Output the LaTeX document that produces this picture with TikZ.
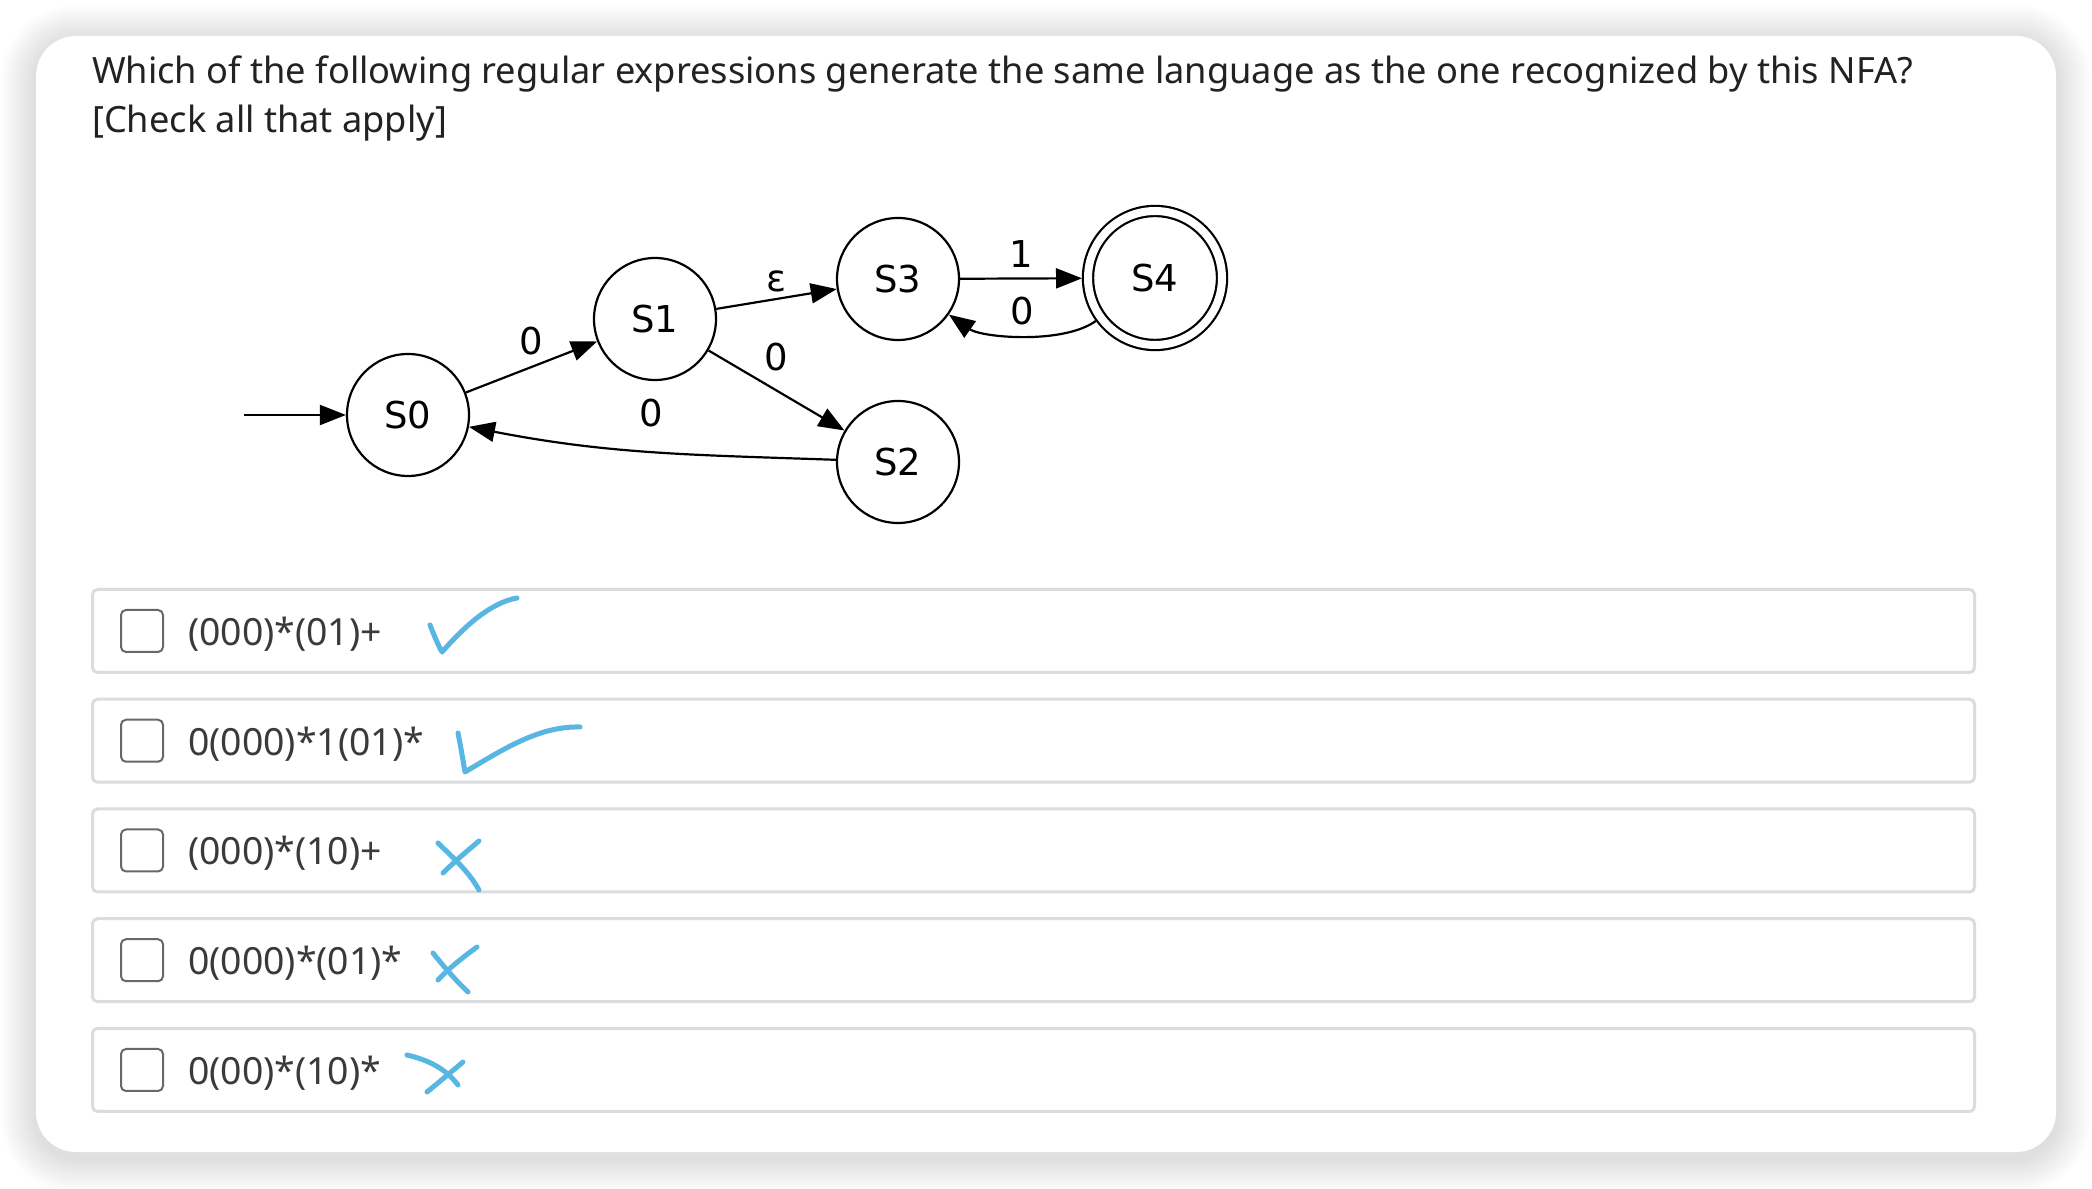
\documentclass[tikz,border=0pt]{standalone}
\usepackage{fontspec}
\setmainfont{Noto Sans}
\newfontfamily\gvfont{DejaVu Sans}
\usepackage{tikz}
\usetikzlibrary{positioning,automata,calc}
\usetikzlibrary{shapes.geometric, arrows.meta}
\definecolor{qgray}{RGB}{34,34,34}
\definecolor{optgray}{RGB}{58,58,58}
\definecolor{boxgray}{RGB}{220,220,224}
\definecolor{cbgray}{RGB}{104,104,104}
\definecolor{tickblue}{RGB}{88,182,226}
\tikzset{
  st/.style={circle, draw=black, line width=1.1pt, minimum size=61pt, inner sep=0pt, font=\gvfont\fontsize{18.5}{20}\selectfont},
  acc/.style={st, double, double distance=4pt, minimum size=67pt, outer sep=3pt},
  lbl/.style={font=\gvfont\fontsize{18.5}{20}\selectfont, inner sep=0pt},
  qt/.style={anchor=base west, inner sep=0pt, text=qgray, font=\fontsize{18.1}{23}\selectfont},
  ob/.style={draw=boxgray, line width=1.5pt, rounded corners=2.5pt, minimum width=941pt, minimum height=41.5pt},
  cb/.style={draw=cbgray, line width=1pt, rounded corners=2.5pt, minimum size=21pt, inner sep=0pt},
  ot/.style={anchor=base west, inner sep=0pt, text=optgray, font=\fontsize{18.7}{23}\selectfont},
  pen/.style={line width=2.5pt, draw=tickblue, line cap=round, line join=round}
}

\begin{document}
\begin{tikzpicture}[x=0.5pt, y=0.5pt, line width=1.1pt, >={Triangle[length=13pt,width=10pt]}]
	\useasboundingbox (0,0) rectangle (2092,1188);
	\fill[white] (0,0) rectangle (2092,1188);
	\foreach \k in {1,...,16}{
		\pgfmathsetmacro\gr{\k*2.2}
		\pgfmathsetmacro\rr{20+\gr*0.5}
		\fill[black, opacity=0.008, rounded corners=\rr pt] (36-\gr,30-\gr) rectangle (2056+\gr,1148+\gr);
	}
	\fill[white, rounded corners=20pt] (36,36) rectangle (2056,1152);

	\node[qt] (q1) at (91,1104) {Which of the following regular expressions generate the same language as the one recognized by this NFA?};
	\node[qt] (q2) at ([yshift=-24.5pt]q1.base west) {[Check all that apply]};

	\node[st] (S0) at (408,773) {S0};
	\node[st] (S1) at (655,869) {S1};
	\node[st] (S2) at (898,726) {S2};
	\node[st] (S3) at (898,909) {S3};
	\node[acc] (S4) at (1155,910) {S4};
	\coordinate (init) at (244,773);

	\draw[->] (init) -- (S0);
	\draw[->] (S0) -- node[lbl, above=5.5pt] {0} (S1);
	\draw[->] (S1) -- node[lbl, above=3pt] {ε} (S3);
	\draw[->] (S1) -- node[lbl, above=9pt] {0} (S2);
	\draw[->] (S3) -- node[lbl, above=5pt] {1} (S4);
	\draw[->] (S4) to[out=-144, in=-35, looseness=0.7] node[lbl, above=4.8pt] {0} (S3);
	\draw[->] (S2) to[out=178, in=-11] node[lbl, above=12pt] {0} (S0);

	\foreach \re [count=\i] in {{(000)*(01)+}, {0(000)*1(01)*}, {(000)*(10)+}, {0(000)*(01)*}, {0(00)*(10)*}}{
		\pgfmathsetmacro\yc{557-(\i-1)*109.75}
		\node[ob] (row\i) at (1033.5,\yc) {};
		\node[cb] (box\i) at (142,\yc) {};
		\node[ot] (opt\i) at (187,\yc-14.5) {\re};
	}

	\draw[pen] (430,563) .. controls (434,553) and (438,543) .. (442,536) .. controls (465,562) and (490,585) .. (517,590);
	\draw[pen] (458,455) .. controls (461,440) and (463,428) .. (465,416) .. controls (505,440) and (540,462) .. (580,461);
	\draw[pen] (438,345) .. controls (450,333) and (468,318) .. (479,298);
	\draw[pen] (479,347) .. controls (466,336) and (454,326) .. (443,315);
	\draw[pen] (433,235) .. controls (440,226) and (456,207) .. (468,196);
	\draw[pen] (477,241) .. controls (462,230) and (448,219) .. (438,208);
	\draw[pen] (407,133) .. controls (428,128) and (445,120) .. (458,103);
	\draw[pen] (463,126) .. controls (450,115) and (438,105) .. (427,96);
\end{tikzpicture}
\end{document}
